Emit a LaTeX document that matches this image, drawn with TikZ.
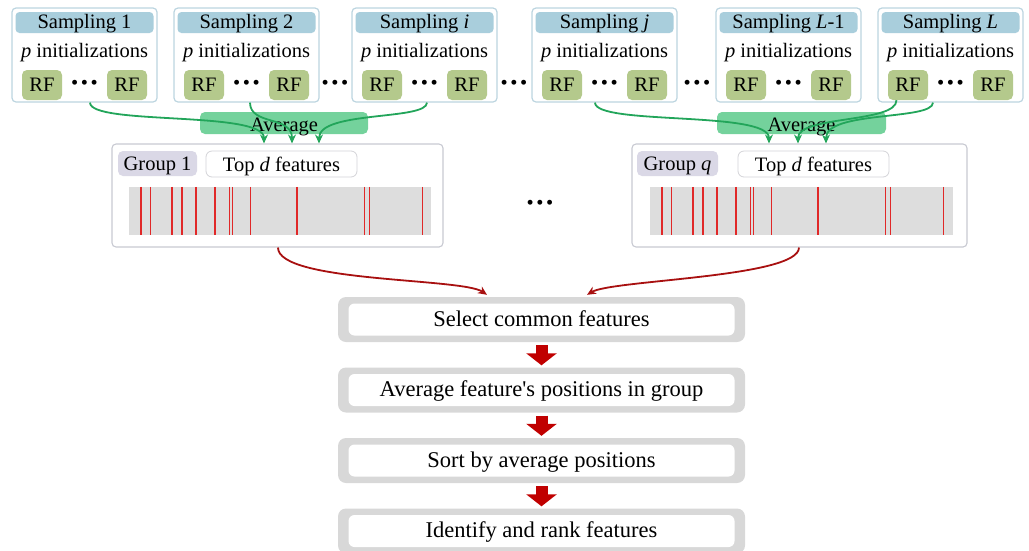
\documentclass[tikz,border=0pt]{standalone}
\usepackage{fontspec}
\setmainfont{Liberation Serif}
\usetikzlibrary{arrows.meta,calc}
\definecolor{sampB}{HTML}{BCD5E0}
\definecolor{headF}{HTML}{A9CEDC}
\definecolor{rfF}{HTML}{B4C98C}
\definecolor{avgF}{HTML}{74D29C}
\definecolor{grnA}{HTML}{22A55A}
\definecolor{grpB}{HTML}{C8CAD2}
\definecolor{grpL}{HTML}{DAD8E6}
\definecolor{topB}{HTML}{D4D4D8}
\definecolor{barF}{HTML}{DDDDDD}
\definecolor{redL}{HTML}{E02828}
\definecolor{redC}{HTML}{A81010}
\definecolor{flowF}{HTML}{D8D8D8}
\definecolor{bigR}{HTML}{C00000}
\begin{document}
\begin{tikzpicture}[x=1pt,y=-1pt,font=\fontsize{20.5}{24}\selectfont,
  sampbox/.style={draw=sampB,line width=1.2pt,fill=white,rounded corners=4pt,minimum width=145pt,minimum height=94pt,inner sep=0pt},
  header/.style={fill=headF,rounded corners=4pt,minimum width=138pt,minimum height=21pt,inner sep=0pt,text height=14pt,text depth=2.5pt},
  rfbox/.style={fill=rfF,rounded corners=5pt,minimum width=40pt,minimum height=30pt,inner sep=0pt},
  plaintext/.style={inner sep=0pt},
  dotsn/.style={inner sep=0pt},
  avgbar/.style={fill=avgF,rounded corners=5pt,minimum height=22pt,inner sep=0pt,text height=17pt,text depth=0.5pt},
  grnarrow/.style={draw=grnA,line width=1.8pt,-{Stealth[length=9pt,width=8pt]}},
  grpbox/.style={draw=grpB,line width=1.1pt,fill=white,rounded corners=4pt,minimum height=103pt,inner sep=0pt},
  grplab/.style={fill=grpL,rounded corners=5pt,minimum height=25pt,inner sep=0pt,text height=15.5pt,text depth=1.5pt},
  topd/.style={draw=topB,line width=0.8pt,fill=white,rounded corners=6pt,minimum width=151pt,minimum height=26pt,inner sep=0pt,text height=15.5pt,text depth=1.5pt},
  featbar/.style={fill=barF,minimum height=48pt,inner sep=0pt},
  redline/.style={draw=redL,line width=1.6pt},
  redcurve/.style={draw=redC,line width=1.8pt,-{Stealth[length=9pt,width=8pt]}},
  flowout/.style={fill=flowF,rounded corners=8pt,minimum width=407pt,minimum height=45pt,inner sep=0pt},
  flowin/.style={fill=white,rounded corners=6pt,minimum width=386pt,minimum height=32pt,inner sep=0pt,font=\fontsize{22.5}{27}\selectfont,text height=15.5pt,text depth=2.5pt},
  bigarrow/.style={draw=bigR,line width=12pt,-{Triangle[length=12pt 0 0,width=30pt 0 0]},shorten <=3pt,shorten >=2pt}
]
\useasboundingbox (0,0) rectangle (1029,550);

% sampling boxes
\foreach \nm/\x/\lab in {s1/12/{1},s2/174/{2},si/352/{\textit{i}},sj/532/{\textit{j}},sLa/716/{\textit{L}-1},sL/878/{\textit{L}}}{
  \node[sampbox] (\nm) at (\x+72.5,55) {};
  \node[header] (\nm h) at (\x+72.5,22.5) {Sampling \lab};
  \node[plaintext] (\nm p) at (\x+72.5,52.5) {\textit{p} initializations};
  \node[rfbox] (\nm a) at (\x+30,85) {RF};
  \node[dotsn] (\nm d) at (\x+72.5,85) {\textbullet\kern2.5pt\textbullet\kern2.5pt\textbullet};
  \node[rfbox] (\nm b) at (\x+115,85) {RF};
}
\node[dotsn] (d1) at (335,85) {\textbullet\kern2.5pt\textbullet\kern2.5pt\textbullet};
\node[dotsn] (d2) at (514,85) {\textbullet\kern2.5pt\textbullet\kern2.5pt\textbullet};
\node[dotsn] (d3) at (697,85) {\textbullet\kern2.5pt\textbullet\kern2.5pt\textbullet};

% average bars
\node[avgbar,minimum width=168pt] (av1) at (284,123) {Average};
\node[avgbar,minimum width=169pt] (av2) at (801.5,123) {Average};

% groups
\node[grpbox,minimum width=331pt] (g1) at (277.5,195.5) {};
\node[grplab,minimum width=79pt] (g1l) at (157.5,163.5) {Group 1};
\node[topd] (g1t) at (281.5,164) {Top \textit{d} features};
\node[featbar,minimum width=302pt] (g1b) at (280,211) {};
\node[grpbox,minimum width=335pt] (gq) at (799.5,195.5) {};
\node[grplab,minimum width=81pt] (gql) at (677.5,163.5) {Group \textit{q}};
\node[topd] (gqt) at (813.5,164) {Top \textit{d} features};
\node[featbar,minimum width=303pt] (gqb) at (801.5,211) {};
\foreach \o in {12,21.5,43,53,67,86,100.5,103.5,121.5,168,235.5,240.5,293.5}{
  \draw[redline] ($(g1b.north west)+(\o,0)$) -- ($(g1b.south west)+(\o,0)$);
  \draw[redline] ($(gqb.north west)+(\o,0)$) -- ($(gqb.south west)+(\o,0)$);
}
\node[dotsn] (d4) at (540,205) {\textbullet\kern2.5pt\textbullet\kern2.5pt\textbullet};

% green arrows
\draw[grnarrow] ($(s1.south)+(5.5,0)$) .. controls +(0,23) and +(0,-33) .. ($(g1.north)+(-13.5,0)$);
\draw[grnarrow] ($(s2.south)+(3.5,0)$) .. controls +(0,23) and +(0,-28) .. ($(g1.north)+(14.5,0)$);
\draw[grnarrow] ($(si.south)+(2.5,0)$) .. controls +(0,18) and +(0,-33) .. ($(g1.north)+(41.5,0)$);
\draw[grnarrow] ($(sj.south)+(-9.5,0)$) .. controls +(0,23) and +(0,-33) .. ($(gq.north)+(-30.5,0)$);
\draw[grnarrow] ($(sLa.south)+(-11.5,0)$) .. controls +(0,23) and +(0,-28) .. ($(gq.north)+(-1.5,0)$);
\draw[grnarrow] ($(sL.south)+(-17.5,0)$) .. controls +(0,18) and +(0,-33) .. ($(gq.north)+(26.5,0)$);

% flow
\node[flowout] (f1) at (541.5,319.5) {};
\node[flowin] (f1t) at (f1) {Select common features};
\node[flowout] (f2) at (541.5,390) {};
\node[flowin] (f2t) at (f2) {Average feature\textquotesingle s positions in group};
\node[flowout] (f3) at (541.5,460.5) {};
\node[flowin] (f3t) at (f3) {Sort by average positions};
\node[flowout] (f4) at (541.5,531) {};
\node[flowin] (f4t) at (f4) {Identify and rank features};
\draw[bigarrow] (f1.south) -- (f2.north);
\draw[bigarrow] (f2.south) -- (f3.north);
\draw[bigarrow] (f3.south) -- (f4.north);

% red curves
\draw[redcurve] ($(g1.south)+(0.5,0)$) .. controls +(0,35) and +(-25,-17) .. ($(f1.north)+(-54.5,-2)$);
\draw[redcurve] ($(gq.south)+(-0.5,0)$) .. controls +(0,30) and +(25,-15) .. ($(f1.north)+(45.5,-2)$);
\end{tikzpicture}
\end{document}
